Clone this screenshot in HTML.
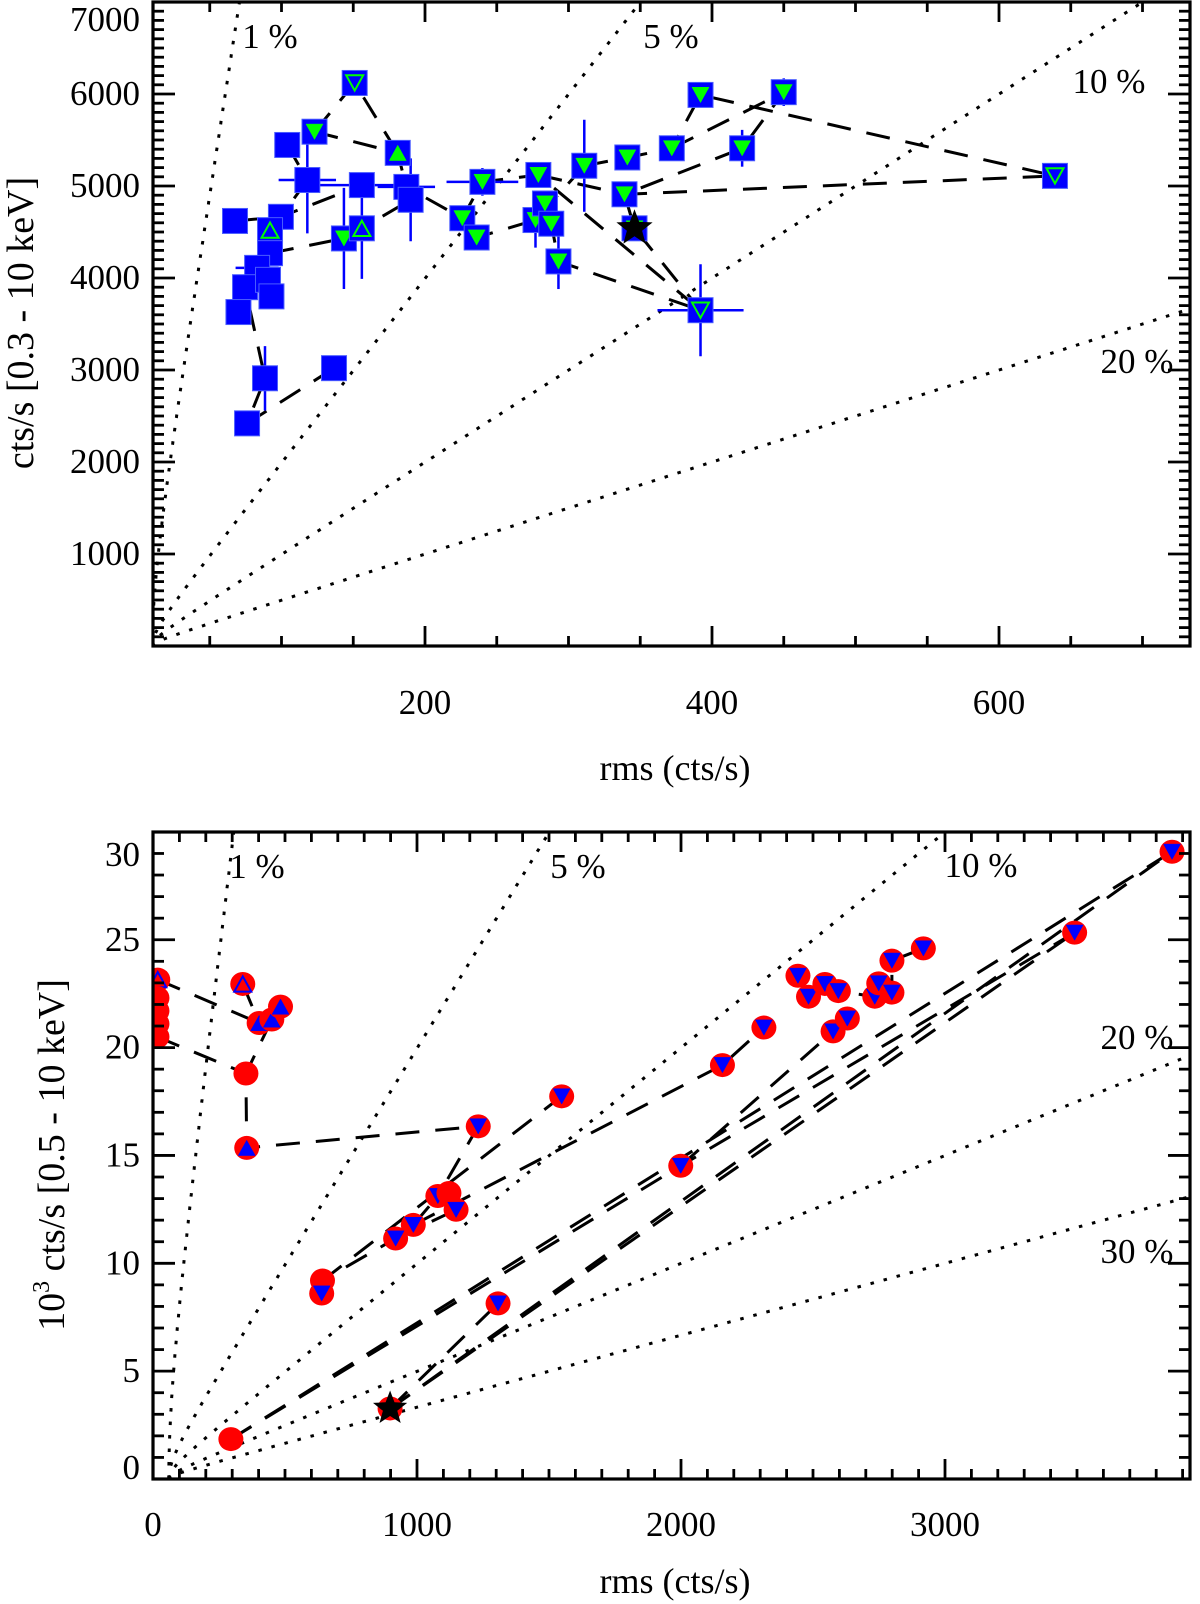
<!DOCTYPE html>
<html><head><meta charset="utf-8"><title>rms-flux</title>
<style>
html,body{margin:0;padding:0;background:#fff;}
svg{display:block;font-family:"Liberation Serif",serif;}
</style></head>
<body>
<svg id="fig" width="1200" height="1604" viewBox="0 0 1200 1604" xmlns="http://www.w3.org/2000/svg">
<defs>
<clipPath id="clipTop"><rect x="153" y="2" width="1037" height="644"/></clipPath>
<clipPath id="clipBot"><rect x="153" y="832" width="1037" height="647"/></clipPath>
</defs>
<g id="top"></g>
<g id="bot"></g>
</svg>
<script>
// ---------- TOP PANEL DATA ----------
const topX = [151,123,104,181,118,156,187,190,240,279,311,341,372,339,346,67.6,99.6,92,92,83,74.6,90.6,93,70,88.5,136.6,76,143.5,156,226,236,277,283.6,288,293,392,450,421,639,392];
const topY = [6120,5590,5446,5360,5065,5010,4990,4850,5045,5120,5220,5310,5410,4910,4540,4620,4665,4520,4270,4110,3900,3980,3800,3630,2910,3020,2420,4430,4540,4650,4440,4630,4810,4590,4180,5990,6020,5410,5110,3650];
// 0 square, 1 filled down, 2 open down, 3 filled up, 4 open up
const topType = [2,1,0,3,0,0,0,0,1,1,1,1,1,1,1,0,0,4,0,0,0,0,0,0,0,0,0,1,4,1,1,1,1,1,1,1,1,1,2,2];
const topStar = [14];
const topSeq = [[25,26,24,20],[23,20,19,21,22],[18,27,28,7],[15,16,5,6,29,8,9,39,34,33,31,30,29],[17,16,4,2],[1,0,3],[1,3,6],[10,31],[10,11,12,35,38],[12,36,37,13,38],[13,14,39],[9,13]];
const topErrIdx = [4,27,28,7,6,5,19,24,8,10,34,37,36,39,31];
const topErrX = [20,0,0,0,20,30,15,0,25,0,0,0,0,30,0];
const topErrY = [580,550,550,450,0,0,0,350,150,500,300,200,150,500,300];
const topPct = [0.01,0.05,0.10,0.20];
const topPctLabels = ["1 %","5 %","10 %","20 %"];
const topXTicks = [200,400,600];
const topYTicks = [1000,2000,3000,4000,5000,6000,7000];

// ---------- BOTTOM PANEL DATA ----------
const botX = [18,15,15,15,15,340,402,450,483,352,355,642,639,295,898,1232,1548,1079,1121,1148,986,919,1307,1999,2157,2314,2576,2630,2443,2483,2545,2596,2734,2749,2799,2799,2918,3491,3860];
const botY = [23.15,22.3,21.7,21.1,20.5,22.95,21.14,21.3,21.9,18.8,15.35,9.2,8.6,1.85,3.27,16.35,17.74,13.12,13.26,12.48,11.78,11.15,8.14,14.52,19.19,20.93,20.75,21.35,23.33,22.36,22.95,22.62,22.36,22.98,22.55,24.03,24.6,25.33,29.08];
// 0 none, 1 filled down, 2 filled up, 3 open up
const botType = [3,0,0,0,0,3,2,2,2,0,2,0,1,0,0,1,1,1,0,1,1,1,1,1,1,1,1,1,1,1,1,1,1,1,1,1,1,1,1];
const botStar = [14];
const botSeq = [[0,6],[5,6,7,8],[4,9,10,15,17],[7,9],[13,23,37],[13,38],[14,22],[14,38],[14,37],[12,11,21,20,17,18],[11,16],[21,19],[20,24,25],[23,26,27],[28,29,30,31,32,33,34,35,36]];
const botPct = [0.01,0.05,0.10,0.20,0.30];
const botPctLabels = ["1 %","5 %","10 %","20 %","30 %"];
const botXTicks = [0,1000,2000,3000];
const botYTicks = [0,5,10,15,20,25,30];

const NS = "http://www.w3.org/2000/svg";
function mk(tag, attrs, parent){const e=document.createElementNS(NS,tag);for(const k in attrs)e.setAttribute(k,attrs[k]);parent.appendChild(e);return e;}

const sx1 = v => 138 + v*1.435;
const sy1 = v => 646 - v*0.092;
const sx2 = v => 153 + v*0.264;
const sy2 = v => 1479 - v*21.57;

function frame(g, x0,y0,x1,y1){
  const r = mk('rect',{x:x0,y:y0,width:x1-x0,height:y1-y0,fill:'none',stroke:'#000','stroke-width':3.2},g);
  
  
}
function tick(g,x1,y1,x2,y2){
  const l=mk('line',{x1:x1,y1:y1,x2:x2,y2:y2,stroke:'#000','stroke-width':2.8},g);
  
  
}
function text(g,x,y,s,anchor,size,name){
  const t=mk('text',{x:x,y:y,'text-anchor':anchor,'font-size':size,fill:'#000'},g);
  t.textContent=s;
  
  
  return t;
}
function triPath(cx,cy,down,s){
  const h=s*0.9;
  if(down) return `M${cx-s/2},${cy-h/2} L${cx+s/2},${cy-h/2} L${cx},${cy+h/2} Z`;
  return `M${cx-s/2},${cy+h/2} L${cx+s/2},${cy+h/2} L${cx},${cy-h/2} Z`;
}
function starPath(cx,cy,R){
  let d='';const r=R*0.42;
  for(let i=0;i<10;i++){const a=-Math.PI/2+i*Math.PI/5;const rr=i%2?r:R;d+=(i?'L':'M')+(cx+rr*Math.cos(a)).toFixed(1)+','+(cy+rr*Math.sin(a)).toFixed(1);}
  return d+'Z';
}

// ================= TOP PANEL =================
const gt=document.getElementById('top');
const gtp=mk('g',{'clip-path':'url(#clipTop)'},gt);
topPct.forEach((f,i)=>{
  let d='';
  for(let y=0;y<=8000;y+=20){const x=Math.sqrt((f*y)*(f*y)+100);d+=(y?'L':'M')+sx1(x).toFixed(1)+','+sy1(y).toFixed(1);}
  const p=mk('path',{d:d,fill:'none',stroke:'#000','stroke-width':3,'stroke-dasharray':'3.5 10'},gtp);
  
  
});
const gtl=mk('g',{'clip-path':'url(#clipTop)'},gt);
topSeq.forEach(seq=>{
  const pts=seq.map(i=>sx1(topX[i]).toFixed(1)+','+sy1(topY[i]).toFixed(1)).join(' ');
  const pl=mk('polyline',{points:pts,fill:'none',stroke:'#000','stroke-width':3,'stroke-dasharray':'24 16'},gtl);
  
  
});
topErrIdx.forEach((i,k)=>{
  const cx=sx1(topX[i]),cy=sy1(topY[i]);
  if(topErrX[k]>0){const l=mk('line',{x1:sx1(topX[i]-topErrX[k]),y1:cy,x2:sx1(topX[i]+topErrX[k]),y2:cy,stroke:'#0000ff','stroke-width':2.5},gt);
    
    }
  if(topErrY[k]>0){const l=mk('line',{x1:cx,y1:sy1(topY[i]-topErrY[k]),x2:cx,y2:sy1(topY[i]+topErrY[k]),stroke:'#0000ff','stroke-width':2.5},gt);
    
    }
});
topX.forEach((v,i)=>{
  const cx=sx1(v),cy=sy1(topY[i]);
  const sq=mk('rect',{x:cx-12.5,y:cy-12.5,width:25,height:25,fill:'#0000ff',stroke:'#4a5cff','stroke-width':1},gt);
  
  
  const t=topType[i];
  if(t>0){
    const down=(t===1||t===2), filled=(t===1||t===3);
    const tr=mk('path',{d:triPath(cx,cy,down,17),fill:filled?'#00ff00':'none',stroke:'#00ff00','stroke-width':filled?0.5:2},gt);
    
    
  }
});
topStar.forEach(i=>{
  const s=mk('path',{d:starPath(sx1(topX[i]),sy1(topY[i]),19),fill:'#000'},gt);
  
  
});
for(let v=50;v<=730;v+=50){const maj=(v%200===0);const x=sx1(v);tick(gt,x,646,x,646-(maj?20:10));tick(gt,x,2,x,2+(maj?20:10));}
for(let v=100;v<=7000;v+=100){const maj=(v%1000===0);const y=sy1(v);tick(gt,153,y,153+(maj?22:11),y);tick(gt,1190,y,1190-(maj?22:11),y);}
frame(gt,153,2,1190,646);
topXTicks.forEach(v=>text(gt,sx1(v),714,String(v),'middle',35,'x-tick-label'));
topYTicks.forEach(v=>{const y=v===7000?20:sy1(v);text(gt,140,y+11,String(v),'end',35,'y-tick-label');});
text(gt,675,780,'rms (cts/s)','middle',36,'x-axis-title');
{const t=text(gt,0,0,'cts/s [0.3 - 10 keV]','middle',38,'y-axis-title');t.setAttribute('transform','translate(33,323) rotate(-90)');}
const topPctPos=[[270,48],[671,48],[1109,93],[1137,373]];
topPctLabels.forEach((s,i)=>text(gt,topPctPos[i][0],topPctPos[i][1],s,'middle',35,'percent-label'));

// ================= BOTTOM PANEL =================
const gb=document.getElementById('bot');
const gbp=mk('g',{'clip-path':'url(#clipBot)'},gb);
botPct.forEach(f=>{
  let d='';
  for(let y=0;y<=32;y+=0.1){const x=Math.sqrt((f*y*1000)*(f*y*1000)+60*60);d+=(y?'L':'M')+sx2(x).toFixed(1)+','+sy2(y).toFixed(1);}
  const p=mk('path',{d:d,fill:'none',stroke:'#000','stroke-width':3,'stroke-dasharray':'3.5 10'},gbp);
  
  
});
const gbl=mk('g',{'clip-path':'url(#clipBot)'},gb);
botSeq.forEach(seq=>{
  const pts=seq.map(i=>sx2(botX[i]).toFixed(1)+','+sy2(botY[i]).toFixed(1)).join(' ');
  const pl=mk('polyline',{points:pts,fill:'none',stroke:'#000','stroke-width':3,'stroke-dasharray':'24 16'},gbl);
  
  
});
const gbm=mk('g',{'clip-path':'url(#clipBot)'},gb);
botX.forEach((v,i)=>{
  const cx=sx2(v),cy=sy2(botY[i]);
  const c=mk('ellipse',{cx:cx,cy:cy,rx:12.5,ry:12,fill:'#ff0000'},gbm);
  
  
  const t=botType[i];
  if(t>0){
    const down=(t===1), filled=(t!==3);
    const tr=mk('path',{d:triPath(cx,cy,down,17),fill:filled?'#0000ff':'none',stroke:'#0000ff','stroke-width':filled?0.5:2},gbm);
    
    
  }
});
botStar.forEach(i=>{
  const s=mk('path',{d:starPath(sx2(botX[i]),sy2(botY[i]),18),fill:'#000'},gb);
  
  
});
for(let v=100;v<=3900;v+=100){const maj=(v%1000===0);const x=sx2(v);tick(gb,x,1479,x,1479-(maj?20:10));tick(gb,x,832,x,832+(maj?20:10));}
for(let v=1;v<=30;v+=1){const maj=(v%5===0);const y=sy2(v);tick(gb,153,y,153+(maj?22:11),y);tick(gb,1190,y,1190-(maj?22:11),y);}
frame(gb,153,832,1190,1479);
botXTicks.forEach(v=>text(gb,sx2(v),1536,String(v),'middle',35,'x-tick-label'));
botYTicks.forEach(v=>{let y=sy2(v);if(v===30)y=855;if(v===0)y=1468;text(gb,140,y+11,String(v),'end',35,'y-tick-label');});
text(gb,675,1593,'rms (cts/s)','middle',36,'x-axis-title');
{const t=mk('text',{transform:'translate(64,1155) rotate(-90)','text-anchor':'middle','font-size':38,fill:'#000'},gb);
 
 
 const a=mk('tspan',{},t);a.textContent='10';
 const b=mk('tspan',{dy:-15,'font-size':24},t);b.textContent='3';
 const c=mk('tspan',{dy:15},t);c.textContent=' cts/s [0.5 - 10 keV]';}
const botPctPos=[[257,878],[578,878],[981,877],[1137,1049],[1137,1263]];
botPctLabels.forEach((s,i)=>text(gb,botPctPos[i][0],botPctPos[i][1],s,'middle',35,'percent-label'));
</script>
</body></html>
